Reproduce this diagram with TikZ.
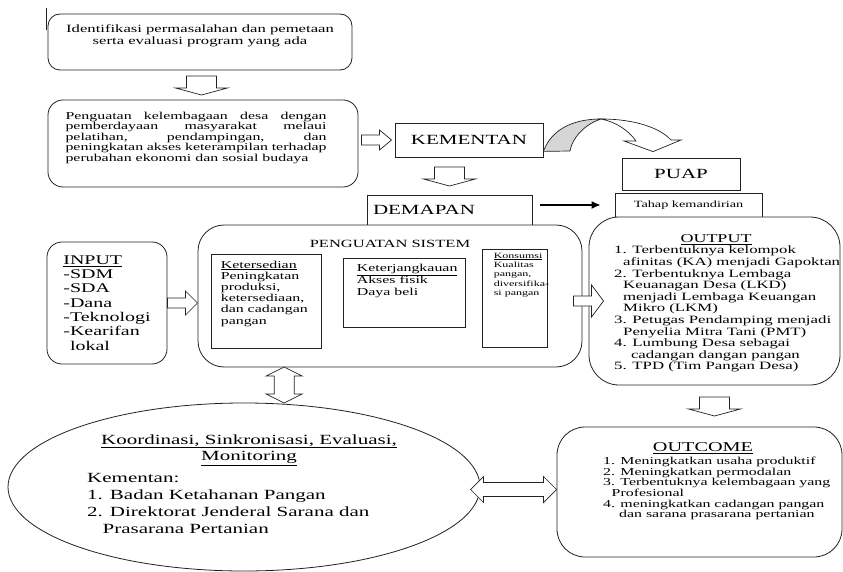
\documentclass[tikz,border=0pt]{standalone}
\usepackage{fontspec}
\setmainfont[FakeStretch=1.5]{Liberation Serif}
\usepackage{tikz}
\usetikzlibrary{shapes.geometric, arrows.meta, positioning, calc}
\definecolor{linegray}{HTML}{222222}
\definecolor{bendgray}{HTML}{D6D6D6}

\tikzset{
  roundbox/.style={draw=linegray, line width=0.8pt, rounded corners=#1, fill=white},
  roundbox/.default=14pt,
  plainbox/.style={draw=linegray, line width=0.8pt, fill=white},
  txt/.style={inner sep=3pt, text=black},
  hollow/.style={draw=linegray, line width=0.7pt, fill=white},
  pics/downblock/.style={code={\path[hollow] (-15,-9) -- (-15,3) -- (-26,3) -- (0,10) -- (26,3) -- (15,3) -- (15,-9) -- cycle;}},
  pics/rightblock/.style={code={\path[hollow] (-15,-5) -- (3,-5) -- (3,-#1) -- (15,0) -- (3,#1) -- (3,5) -- (-15,5) -- cycle;}},
  pics/vdouble/.style={code={\path[hollow] (0,-18) -- (18,-9) -- (10,-9) -- (10,9) -- (18,9) -- (0,18) -- (-18,9) -- (-10,9) -- (-10,-9) -- (-18,-9) -- cycle;}},
  pics/hdouble/.style={code={\path[hollow] (-43,0) -- (-30,-13) -- (-30,-7) -- (30,-7) -- (30,-13) -- (43,0) -- (30,13) -- (30,7) -- (-30,7) -- (-30,13) -- cycle;}},
}

\begin{document}
\begin{tikzpicture}[x=1pt, y=-1pt]
\fill[white] (0,0) rectangle (843,572);
\useasboundingbox (0,0) rectangle (843,572);

% top boxes
\node[roundbox=12pt, minimum width=304pt, minimum height=56pt] (ident) at (200,42) {};
\node[txt, font=\fontsize{11.1}{12}\selectfont, align=center] (identtext) at ([yshift=6pt]ident.center) {Identifikasi permasalahan dan pemetaan\\serta evaluasi program yang ada};
\draw[linegray, line width=0.8pt] ([shift={(-1,-6)}]ident.north west) -- ++(0,22);

\node[roundbox=15pt, minimum width=310pt, minimum height=87pt] (lembaga) at (203,143.5) {};
\node[txt, font=\fontsize{10.6}{10.5}\selectfont, text width=261pt, align=justify] (lembagatext) at ([xshift=-7pt, yshift=6pt]lembaga.center) {Penguatan kelembagaan desa dengan\linebreak pemberdayaan masyarakat melaui\linebreak pelatihan, pendampingan, dan\linebreak peningkatan akses keterampilan terhadap\linebreak perubahan ekonomi dan sosial budaya};

\node[plainbox, minimum width=148pt, minimum height=34pt, font=\fontsize{14}{16}\selectfont] (kementan) at (469,140) {KEMENTAN};
\node[plainbox, minimum width=118pt, minimum height=32pt, font=\fontsize{14}{16}\selectfont] (puap) at (681,174) {PUAP};
\node[plainbox, minimum width=147pt, minimum height=24pt, font=\fontsize{9.5}{11}\selectfont] (tahap) at (688.5,205) {Tahap kemandirian};
\node[plainbox, minimum width=165pt, minimum height=30pt, text width=153pt, align=left, font=\fontsize{14}{16}\selectfont] (demapan) at (449.5,210) {DEMAPAN};

% middle row
\node[roundbox=15pt, minimum width=120pt, minimum height=122pt, align=left, font=\fontsize{13.3}{14.3}\selectfont] (input) at (107,303) {\underline{INPUT}\\-SDM\\-SDA\\-Dana\\-Teknologi\\-Kearifan\\\hspace*{0.5em}lokal};

\node[roundbox=26pt, minimum width=384pt, minimum height=142pt] (sistem) at (390,296) {};
\node[txt, font=\fontsize{11}{12}\selectfont] (sistemtitle) at (390,244) {PENGUATAN SISTEM};

\node[plainbox, minimum width=110pt, minimum height=94pt] (ketbox) at (266,301) {};
\node[txt, anchor=north west, align=left, font=\fontsize{10.6}{11.2}\selectfont] (kettext) at ([shift={(7,4)}]ketbox.north west) {\underline{Ketersedian}\\Peningkatan\\produksi,\\ketersediaan,\\dan cadangan\\pangan};

\node[plainbox, minimum width=122pt, minimum height=69pt] (jangkaubox) at (404,292.5) {};
\node[txt, anchor=north west, align=left, font=\fontsize{10.6}{11.5}\selectfont] (jangkautext) at ([shift={(11,3)}]jangkaubox.north west) {\underline{Keterjangkauan}\\Akses fisik\\Daya beli};

\node[plainbox, minimum width=65pt, minimum height=98pt] (konsumbox) at (514.5,298) {};
\node[txt, anchor=north west, align=left, font=\fontsize{8}{9.4}\selectfont] (konsumtext) at ([shift={(9,1)}]konsumbox.north west) {\underline{Konsumsi}\\Kualitas\\pangan,\\diversifika-\\si pangan};

\node[roundbox=30pt, minimum width=251pt, minimum height=168pt] (output) at (714.5,301) {};
\node[txt, font=\fontsize{12}{13}\selectfont] (outputtitle) at (716,240) {\underline{OUTPUT}};
\node[txt, anchor=north west, align=left, font=\fontsize{11.2}{11.6}\selectfont] (outputlist) at (611,243) {1. Terbentuknya kelompok\\
\hspace*{0.8em}afinitas (KA) menjadi Gapoktan\\
2. Terbentuknya Lembaga\\
\hspace*{0.8em}Keuanagan Desa (LKD)\\
\hspace*{0.8em}menjadi Lembaga Keuangan\\
\hspace*{0.8em}Mikro (LKM)\\
3. Petugas Pendamping menjadi\\
\hspace*{0.8em}Penyelia Mitra Tani (PMT)\\
4. Lumbung Desa sebagai\\
\hspace*{1.5em}cadangan dangan pangan\\
5. TPD (Tim Pangan Desa)};

% bottom row
\node[draw=linegray, line width=0.8pt, ellipse, minimum width=472pt, minimum height=168pt, inner sep=0pt, fill=white] (koord) at (244,487) {};
\node[txt, align=center, font=\fontsize{14}{16.5}\selectfont] (koordtitle) at (249,450) {\underline{Koordinasi, Sinkronisasi, Evaluasi,}\\\underline{Monitoring}};
\node[txt, anchor=north west, align=left, font=\fontsize{14}{17}\selectfont] (koordlist) at (84,470) {Kementan:\\1. Badan Ketahanan Pangan\\2. Direktorat Jenderal Sarana dan\\\hspace*{1.1em}Prasarana Pertanian};

\node[roundbox=28pt, minimum width=285pt, minimum height=130pt] (outcome) at (699.5,492) {};
\node[txt, font=\fontsize{13.5}{15}\selectfont] (outcometitle) at (703,448) {\underline{OUTCOME}};
\node[txt, anchor=north west, align=left, font=\fontsize{10.6}{10.6}\selectfont] (outcomelist) at (600,454) {1. Meningkatkan usaha produktif\\
2. Meningkatkan permodalan\\
3. Terbentuknya kelembagaan yang\\
\hspace*{0.8em}Profesional\\
4. meningkatkan cadangan pangan\\
\hspace*{1.5em}dan sarana prasarana pertanian};

% block arrows
\pic at ($(ident.south)!0.5!(lembaga.north)$) {downblock};
\pic at ($(kementan.south -| demapan.north)!0.5!(demapan.north)$) {downblock};
\pic at ($(output.south)!0.5!(output.south |- outcome.north)$) {downblock};
\pic at ($(lembaga.east |- kementan.west)!0.5!(kementan.west)$) {rightblock=10};
\pic at ($(input.east)!0.5!(input.east -| sistem.west)$) {rightblock=12};
\pic at ([xshift=3pt]$(sistem.east |- output.west)!0.5!(output.west)$) {rightblock=16};
\coordinate (sisfoot) at ($(sistem.south west)!0.225!(sistem.south east)$);
\pic at ($(sisfoot)!0.5!(sisfoot |- koord.north)$) {vdouble};
\pic at ([xshift=-5pt]$(koord.east)!0.5!(outcome.west)$) {hdouble};

% curved arrow to PUAP
\coordinate (bendfoot) at ([shift={(0,-6)}]kementan.south east);
\coordinate (bendtip) at ([shift={(-28,-6)}]puap.north);
\path[hollow, fill=bendgray] (bendfoot) .. controls (552,128) and (575,119) .. (601,119) .. controls (585,124) and (572,138) .. (570,151) -- cycle;
\path[hollow] (601,119) .. controls (635,119) and (660,128) .. (671,140) -- (681,140) -- (bendtip) -- (624,141) -- (636,141) .. controls (628,130) and (616,122) .. (601,119) -- cycle;

\draw[-{Latex[length=9pt,width=8pt]}, line width=1.3pt] ([xshift=8pt]demapan.east |- tahap.west) -- ([xshift=-14pt]tahap.west);
\end{tikzpicture}
\end{document}
